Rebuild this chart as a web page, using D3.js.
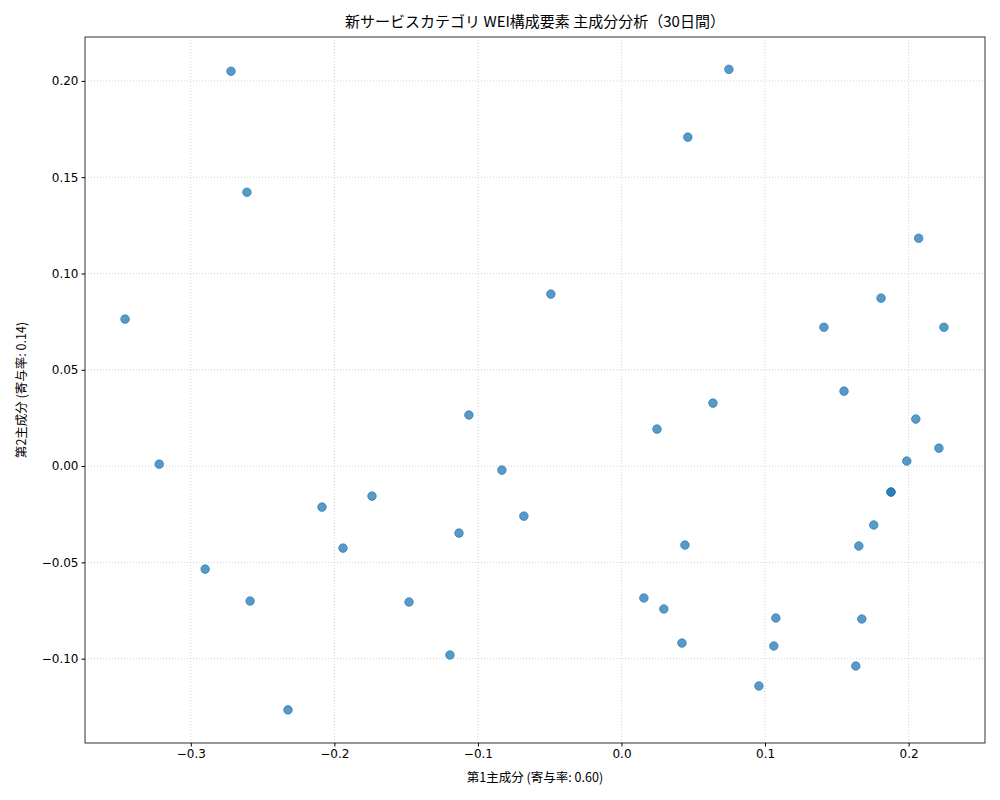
<!DOCTYPE html>
<html><head><meta charset="utf-8">
<script src="https://cdn.jsdelivr.net/npm/d3@7"></script>
<style>body{margin:0;background:#fff;font-family:"Noto Sans CJK JP","DejaVu Sans",sans-serif}</style>
</head><body><div id="chart"></div>
<script>
const pc1 = [-0.272,0.0748,0.0462,-0.2609,0.207,-0.3458,-0.0492,0.1808,0.141,0.2246,0.155,0.0637,0.205,-0.1063,0.0247,0.2211,-0.322,0.1987,-0.0833,0.1877,0.1877,-0.1738,-0.2086,0.1757,-0.068,-0.1132,-0.194,0.0442,0.1653,-0.290,-0.2587,-0.148,0.0156,0.0295,0.1075,0.1674,0.0421,0.1061,-0.1195,0.1632,0.0957,-0.2323];
const pc2 = [0.205,0.206,0.1708,0.1422,0.1183,0.0763,0.0893,0.0872,0.0721,0.0721,0.0389,0.0327,0.0244,0.0265,0.0192,0.0093,0.001,0.0026,-0.0021,-0.0135,-0.0135,-0.0156,-0.0213,-0.0306,-0.026,-0.0348,-0.0426,-0.041,-0.0415,-0.0535,-0.0701,-0.0706,-0.0685,-0.0742,-0.0789,-0.0794,-0.0919,-0.0934,-0.0981,-0.1038,-0.1142,-0.1266];
const xTicks = [-0.3,-0.2,-0.1,0,0.1,0.2];
const yTicks = [-0.10,-0.05,0,0.05,0.10,0.15,0.20];

const W = 1000, H = 800, m = {l:85, r:15, t:37, b:57};
const svg = d3.select('#chart').append('svg').attr('width', W).attr('height', H);
const x = d3.scaleLinear().domain([-0.3737, 0.2532]).range([m.l, W - m.r]);
const y = d3.scaleLinear().domain([-0.1438, 0.2228]).range([H - m.b, m.t]);
const minus = v => v < 0 ? '\u2212' + Math.abs(v).toFixed(1) : v.toFixed(1);
const minus2 = v => v < 0 ? '\u2212' + Math.abs(v).toFixed(2) : v.toFixed(2);

// grid
svg.append('g').selectAll('line').data(xTicks).join('line')
  .attr('x1', d => x(d)).attr('x2', d => x(d)).attr('y1', m.t).attr('y2', H - m.b)
  .attr('stroke', '#b0b0b0').attr('stroke-width', 0.8).attr('stroke-dasharray', '1,2').attr('opacity', 0.7);
svg.append('g').selectAll('line').data(yTicks).join('line')
  .attr('y1', d => y(d)).attr('y2', d => y(d)).attr('x1', m.l).attr('x2', W - m.r)
  .attr('stroke', '#b0b0b0').attr('stroke-width', 0.8).attr('stroke-dasharray', '1,2').attr('opacity', 0.7);

const gx = svg.append('g').attr('transform', `translate(0,${H - m.b})`)
  .call(d3.axisBottom(x).tickValues(xTicks).tickFormat(minus).tickSize(3.5));
const gy = svg.append('g').attr('transform', `translate(${m.l},0)`)
  .call(d3.axisLeft(y).tickValues(yTicks).tickFormat(minus2).tickSize(3.5));
[gx, gy].forEach(g => {
  g.selectAll('text').attr('font-size', 12).attr('fill', '#000').attr('font-family', 'DejaVu Sans');
  g.select('.domain').remove();
});

svg.append('rect').attr('x', m.l).attr('y', m.t).attr('width', W - m.l - m.r).attr('height', H - m.t - m.b)
  .attr('fill', 'none').attr('stroke', '#000').attr('stroke-width', 0.8);

svg.append('g').selectAll('circle').data(pc1).join('circle')
  .attr('cx', d => x(d)).attr('cy', (d, i) => y(pc2[i])).attr('r', 4.3)
  .attr('fill', '#1f77b4').attr('fill-opacity', 0.75)
  .attr('stroke', '#1f77b4').attr('stroke-opacity', 0.8).attr('stroke-width', 0.8);

svg.append('text').attr('x', (m.l + W - m.r) / 2).attr('y', 27).attr('text-anchor', 'middle')
  .attr('font-size', 15).text('新サービスカテゴリ WEI構成要素 主成分分析（30日間）');
svg.append('text').attr('x', (m.l + W - m.r) / 2).attr('y', 782).attr('text-anchor', 'middle')
  .attr('font-size', 12.5).text('第1主成分 (寄与率: 0.60)');
svg.append('text').attr('transform', `translate(26,${(m.t + H - m.b) / 2}) rotate(-90)`).attr('text-anchor', 'middle')
  .attr('font-size', 12.5).text('第2主成分 (寄与率: 0.14)');
</script></body></html>
